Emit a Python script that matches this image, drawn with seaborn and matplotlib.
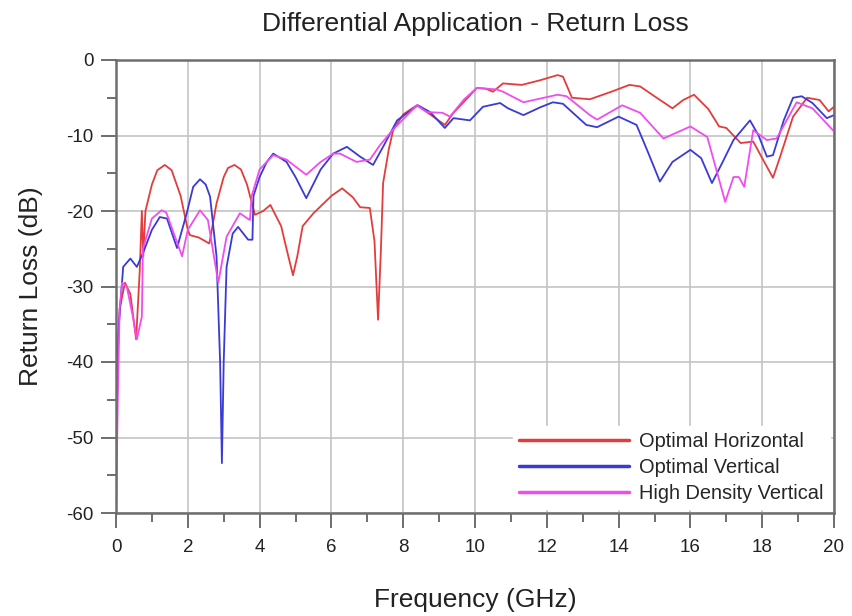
import pandas as pd
import numpy as np
import matplotlib
matplotlib.use("Agg")
import matplotlib.pyplot as plt
import seaborn as sns

# ============================================================
# DATA
# ============================================================
SERIES = ['Optimal Horizontal', 'Optimal Vertical', 'High Density Vertical']
COLORS = ['#e43c3c', '#3a3ad6', '#f04cf0']

horiz_f = [0, 0.1, 0.25, 0.4, 0.56, 0.66, 0.72, 0.76, 0.82, 1.0, 1.15, 1.36, 1.55, 1.8,
           2.0, 2.06, 2.3, 2.6, 2.8, 3.0, 3.12, 3.3, 3.48, 3.65, 3.87, 4.1, 4.3, 4.6,
           4.8, 4.93, 5.05, 5.2, 5.5, 6.0, 6.3, 6.6, 6.8, 7.07, 7.2, 7.3, 7.38, 7.44,
           7.6, 7.72, 8.0, 8.38, 8.66, 9.16, 9.4, 9.7, 10.05, 10.3, 10.5, 10.78, 11.3,
           11.8, 12.3, 12.45, 12.7, 13.2, 13.8, 14.3, 14.6, 15.0, 15.5, 15.8, 16.1, 16.5,
           16.8, 17.0, 17.4, 17.75, 18.0, 18.3, 18.5, 18.86, 19.25, 19.6, 19.85, 20]
horiz_db = [-45, -33, -29.5, -31, -37, -28, -20, -26, -20, -16.5, -14.6, -13.9, -14.6, -18,
            -22.5, -23.2, -23.5, -24.3, -19, -15.5, -14.3, -13.9, -14.5, -16.5, -20.5, -20,
            -19.2, -22, -26, -28.5, -26, -22, -20.3, -18, -17, -18.2, -19.5, -19.6, -24,
            -34.4, -25, -16.3, -11.8, -9.3, -7.2, -6, -6.9, -8.6, -7, -5.5, -3.7, -3.8,
            -4.2, -3.1, -3.3, -2.7, -2, -2.2, -5, -5.2, -4.2, -3.3, -3.5, -4.8, -6.4, -5.3,
            -4.6, -6.5, -8.8, -9, -11, -10.8, -13, -15.6, -12.8, -7.5, -5, -5.3, -6.8, -6.2]

vert_f = [0, 0.03, 0.08, 0.2, 0.4, 0.58, 0.75, 1.0, 1.22, 1.42, 1.7, 1.97, 2.15, 2.34,
          2.5, 2.62, 2.8, 2.9, 2.95, 3.0, 3.08, 3.25, 3.4, 3.68, 3.8, 3.83, 4.0, 4.2,
          4.38, 4.75, 5.0, 5.3, 5.7, 6.05, 6.43, 6.8, 7.16, 7.44, 7.83, 8.41, 8.75, 9.16,
          9.4, 9.86, 10.22, 10.7, 10.92, 11.35, 11.8, 12.17, 12.45, 13.1, 13.4, 14.0,
          14.5, 14.8, 15.15, 15.5, 16.0, 16.3, 16.6, 16.9, 17.2, 17.66, 17.9, 18.13,
          18.3, 18.6, 18.86, 19.1, 19.4, 19.8, 20]
vert_db = [-48, -40, -35, -27.4, -26.3, -27.4, -25.6, -22.5, -20.8, -21, -24.9, -20.3,
           -16.8, -15.8, -16.5, -18.1, -26, -40, -53.4, -40, -27.4, -23, -22.1, -23.8,
           -23.8, -18, -15.5, -13.5, -12.4, -13.5, -15.5, -18.3, -14.5, -12.4, -11.5,
           -12.8, -13.9, -11.5, -8, -6, -6.9, -9, -7.7, -8, -6.2, -5.7, -6.4, -7.3, -6.3,
           -5.6, -5.8, -8.6, -8.9, -7.5, -8.6, -12, -16.1, -13.5, -11.9, -13, -16.3,
           -13.5, -10.6, -8, -10, -12.8, -12.6, -8, -5, -4.8, -5.7, -7.7, -7.3]

hd_f = [0, 0.05, 0.1, 0.17, 0.3, 0.47, 0.58, 0.72, 0.75, 1.0, 1.27, 1.4, 1.84, 2.0, 2.34,
        2.56, 2.85, 3.08, 3.45, 3.73, 3.78, 4.0, 4.38, 4.75, 5.3, 5.7, 6.05, 6.24, 6.7,
        7.07, 7.35, 7.7, 8.38, 8.66, 9.1, 9.3, 9.7, 10.05, 10.6, 10.78, 11.35, 12.3,
        12.55, 13.2, 13.4, 14.1, 14.6, 15.25, 16.0, 16.47, 16.75, 16.97, 17.2, 17.35,
        17.5, 17.75, 18.13, 18.4, 18.96, 19.4, 19.97]
hd_db = [-60, -45, -33, -29.5, -30, -34, -37, -34, -25, -21, -19.9, -20.2, -26, -22.5,
         -19.9, -21.2, -29.5, -23.4, -20.3, -21.2, -18, -14.5, -12.6, -13.2, -15.2, -13.5,
         -12.4, -12.4, -13.5, -13.2, -11.3, -9.3, -6, -6.9, -7, -7.5, -5.2, -3.7, -3.9,
         -4.2, -5.6, -4.6, -4.8, -7.3, -7.9, -6, -7, -10.4, -8.8, -10.2, -15, -18.8,
         -15.5, -15.5, -16.8, -9.3, -10.6, -10.4, -5.6, -6.4, -9.3]

frames = []
for name, f, db in zip(SERIES, [horiz_f, vert_f, hd_f], [horiz_db, vert_db, hd_db]):
    frames.append(pd.DataFrame({'freq': f, 'rl': db, 'series': name}))
df = pd.concat(frames, ignore_index=True)

# ============================================================
# PLOT
# ============================================================
sns.set_theme(style="white")
plt.rcParams['font.family'] = ['Liberation Sans', 'DejaVu Sans']
plt.rcParams['axes.unicode_minus'] = False

fig = plt.figure(figsize=(8.52, 6.16), dpi=100)
ax = fig.add_axes([116 / 852, 1 - 513 / 616, (834 - 116) / 852, (513 - 60) / 616])

sns.lineplot(data=df, x='freq', y='rl', hue='series', hue_order=SERIES,
             palette=COLORS, estimator=None, sort=False, linewidth=1.3, ax=ax)

ax.set_xlim(0, 20)
ax.set_ylim(-60, 0)
ax.set_xticks(np.arange(0, 21, 2))
ax.set_xticks(np.arange(0, 21, 1), minor=True)
ax.set_yticks(np.arange(-60, 1, 10))
ax.set_yticks(np.arange(-60, 1, 5), minor=True)
ax.grid(True, which='major', color='#c4c4c4', linewidth=1.2)
ax.tick_params(which='major', direction='out', length=11, width=1.2, color='#555555',
               labelsize=13.5, labelcolor='#222222', left=True, bottom=True)
ax.tick_params(axis='x', which='major', pad=8)
ax.tick_params(axis='y', which='major', pad=5)
ax.tick_params(which='minor', direction='out', length=6.5, width=1.2, color='#555555',
               left=True, bottom=True)
for s in ax.spines.values():
    s.set_color('#6e6e6e')
    s.set_linewidth(1.8)

ax.set_title("Differential Application - Return Loss", fontsize=19, pad=21,
             color='#222222')
ax.set_xlabel("Frequency (GHz)", fontsize=19, labelpad=23, color='#222222')
ax.set_ylabel("Return Loss (dB)", fontsize=19, labelpad=17, color='#222222')

leg = ax.legend(loc='lower right', frameon=True, fontsize=14.4, handlelength=5.5,
                handletextpad=0.5, labelspacing=0.35, borderaxespad=0.2,
                borderpad=0.3)
leg.get_frame().set_edgecolor('white')
leg.get_frame().set_facecolor('white')
leg.get_frame().set_alpha(1)
for line in leg.get_lines():
    line.set_linewidth(2.5)

plt.savefig('out.png', dpi=100)
plt.close()
